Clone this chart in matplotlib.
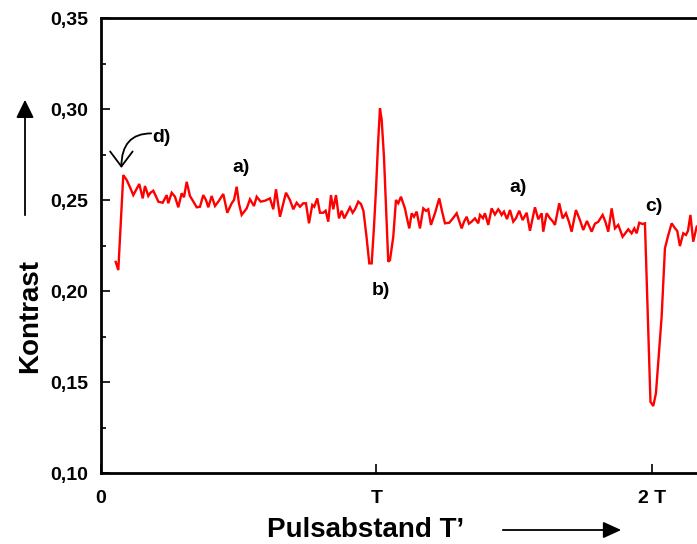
import matplotlib
matplotlib.use("Agg")
import matplotlib.pyplot as plt
from matplotlib.ticker import FixedLocator, MultipleLocator, FuncFormatter

# pulse spacing T' in units of T, contrast value
pulse_spacing = [
    0.0534, 0.0628, 0.0809, 0.0933, 0.1053, 0.1172, 0.1270, 0.1390, 0.1514, 0.1597,
    0.1717, 0.1797, 0.1898, 0.1996, 0.2080, 0.2240, 0.2385, 0.2443, 0.2566, 0.2686,
    0.2806, 0.2929, 0.3013, 0.3111, 0.3230, 0.3339, 0.3474, 0.3593, 0.3713, 0.3811,
    0.3895, 0.4018, 0.4138, 0.4258, 0.4338, 0.4439, 0.4584, 0.4744, 0.4828, 0.4926,
    0.5009, 0.5107, 0.5289, 0.5408, 0.5554, 0.5652, 0.5797, 0.5953, 0.6134, 0.6254,
    0.6352, 0.6497, 0.6606, 0.6715, 0.6860, 0.6980, 0.7103, 0.7223, 0.7343, 0.7441,
    0.7550, 0.7670, 0.7742, 0.7851, 0.7949, 0.8069, 0.8156, 0.8250, 0.8348, 0.8432,
    0.8530, 0.8639, 0.8737, 0.8831, 0.8955, 0.9038, 0.9136, 0.9220, 0.9339, 0.9437,
    0.9528, 0.9637, 0.9739, 0.9826, 0.9909, 0.9982, 1.0054, 1.0127, 1.0189, 1.0272,
    1.0363, 1.0428, 1.0490, 1.0610, 1.0708, 1.0791, 1.0889, 1.1034, 1.1107, 1.1191,
    1.1278, 1.1361, 1.1459, 1.1579, 1.1699, 1.1797, 1.1880, 1.1978, 1.2123, 1.2279,
    1.2377, 1.2486, 1.2642, 1.2777, 1.2911, 1.3093, 1.3176, 1.3274, 1.3358, 1.3455,
    1.3575, 1.3695, 1.3757, 1.3866, 1.3938, 1.4058, 1.4181, 1.4301, 1.4421, 1.4483,
    1.4544, 1.4628, 1.4737, 1.4846, 1.4966, 1.5064, 1.5183, 1.5306, 1.5452, 1.5572,
    1.5753, 1.5873, 1.5997, 1.6054, 1.6178, 1.6297, 1.6407, 1.6479, 1.6635, 1.6759,
    1.6878, 1.6987, 1.7085, 1.7241, 1.7387, 1.7506, 1.7641, 1.7811, 1.7931, 1.8051,
    1.8210, 1.8312, 1.8414, 1.8537, 1.8657, 1.8777, 1.8936, 1.9140, 1.9263, 1.9358,
    1.9445, 1.9539, 1.9662, 1.9746, 1.9946, 2.0047, 2.0145, 2.0352, 2.0472, 2.0581,
    2.0715, 2.0835, 2.0918, 2.1016, 2.1136, 2.1234, 2.1307, 2.1397, 2.1499, 2.1622,
    2.1742,
]
contrast = [
    0.2160, 0.2115, 0.2637, 0.2610, 0.2570, 0.2527, 0.2555, 0.2588, 0.2509, 0.2577,
    0.2522, 0.2540, 0.2551, 0.2520, 0.2491, 0.2485, 0.2527, 0.2482, 0.2540, 0.2518,
    0.2460, 0.2537, 0.2515, 0.2600, 0.2522, 0.2495, 0.2460, 0.2463, 0.2527, 0.2500,
    0.2460, 0.2522, 0.2467, 0.2491, 0.2510, 0.2533, 0.2430, 0.2482, 0.2500, 0.2573,
    0.2480, 0.2418, 0.2454, 0.2504, 0.2467, 0.2518, 0.2491, 0.2496, 0.2509, 0.2449,
    0.2559, 0.2408, 0.2475, 0.2540, 0.2500, 0.2449, 0.2485, 0.2463, 0.2482, 0.2482,
    0.2372, 0.2473, 0.2463, 0.2509, 0.2430, 0.2430, 0.2441, 0.2381, 0.2527, 0.2449,
    0.2527, 0.2399, 0.2441, 0.2399, 0.2436, 0.2460, 0.2430, 0.2449, 0.2491, 0.2478,
    0.2440, 0.2300, 0.2152, 0.2152, 0.2350, 0.2555, 0.2800, 0.3004, 0.2940, 0.2738,
    0.2400, 0.2161, 0.2170, 0.2298, 0.2500, 0.2482, 0.2518, 0.2454, 0.2400, 0.2344,
    0.2427, 0.2408, 0.2436, 0.2344, 0.2454, 0.2440, 0.2449, 0.2363, 0.2427, 0.2509,
    0.2440, 0.2372, 0.2375, 0.2400, 0.2427, 0.2344, 0.2380, 0.2408, 0.2370, 0.2381,
    0.2399, 0.2372, 0.2418, 0.2400, 0.2427, 0.2363, 0.2454, 0.2420, 0.2449, 0.2436,
    0.2418, 0.2436, 0.2395, 0.2445, 0.2381, 0.2400, 0.2441, 0.2390, 0.2430, 0.2331,
    0.2460, 0.2394, 0.2427, 0.2326, 0.2427, 0.2400, 0.2381, 0.2363, 0.2482, 0.2399,
    0.2427, 0.2380, 0.2326, 0.2445, 0.2390, 0.2335, 0.2385, 0.2326, 0.2370, 0.2380,
    0.2418, 0.2380, 0.2326, 0.2454, 0.2344, 0.2363, 0.2298, 0.2339, 0.2317, 0.2344,
    0.2317, 0.2375, 0.2368, 0.2372, 0.1392, 0.1368, 0.1438, 0.1859, 0.2235, 0.2300,
    0.2372, 0.2345, 0.2330, 0.2247, 0.2317, 0.2308, 0.2330, 0.2418, 0.2271, 0.2353,
    0.2370,
]

x_ticks = [0, 1, 2]
x_ticklabels = ["0", "T", "2 T"]
y_ticks = [0.10, 0.15, 0.20, 0.25, 0.30, 0.35]

# marker labels: text, T', contrast
marks = [
    ("a)", 0.508, 0.2676),
    ("b)", 1.016, 0.2005),
    ("a)", 1.514, 0.2566),
    ("c)", 2.007, 0.2467),
    ("d)", 0.218, 0.2846),
]

plt.rcParams["font.family"] = ["Liberation Sans", "DejaVu Sans"]
plt.rcParams["font.weight"] = "bold"

fig = plt.figure(figsize=(6.97, 5.44), dpi=100)
ax = fig.add_axes([0.1449, 0.1305, 0.8695, 0.8364])

ax.plot(pulse_spacing, contrast, color="#ff0000", lw=1.7, solid_joinstyle="miter")

ax.set_xlim(0, 2.2)
ax.set_ylim(0.10, 0.35)

ax.xaxis.set_major_locator(FixedLocator(x_ticks))
ax.set_xticklabels(x_ticklabels)
ax.yaxis.set_major_locator(FixedLocator(y_ticks))
ax.yaxis.set_minor_locator(MultipleLocator(0.025))
ax.yaxis.set_major_formatter(FuncFormatter(lambda v, p: f"{v:.2f}".replace(".", ",")))

ax.tick_params(axis="both", which="major", direction="in", length=6.5, width=1.2,
               labelsize=14, pad=9)
ax.tick_params(axis="y", which="minor", direction="in", length=3.5, width=1.2)
ax.tick_params(axis="x", which="major", pad=12)
for lbl in ax.get_xticklabels() + ax.get_yticklabels():
    lbl.set_fontweight("bold")

for spine in ax.spines.values():
    spine.set_linewidth(2)
    spine.set_color("black")

for txt, xv, yv in marks:
    ax.text(xv, yv, txt, fontsize=14, fontweight="bold", ha="center", va="center")

# curved pointer from d) down to the first maximum
ax.annotate("", xy=(0.074, 0.2676), xytext=(0.182, 0.2866),
            arrowprops=dict(arrowstyle="->,head_length=0.6,head_width=0.45",
                            connectionstyle="angle3,angleA=0,angleB=90", lw=1.3,
                            color="black", mutation_scale=18,
                            shrinkA=0, shrinkB=0))

# axis titles with direction arrows
fig.text(30 / 697, 1 - 316 / 544, "Kontrast", rotation=90, fontsize=20,
         fontweight="bold", ha="center", va="center")
fig.text(366 / 697, 1 - 530 / 544, "Pulsabstand T\u2019", fontsize=20,
         fontweight="bold", ha="center", va="center")

ax.annotate("", xy=(25, 544 - 97), xytext=(25, 544 - 218), xycoords="figure pixels",
            textcoords="figure pixels",
            arrowprops=dict(arrowstyle="-|>,head_length=0.55,head_width=0.27",
                            lw=1.3, color="black", mutation_scale=20))
ax.annotate("", xy=(624, 544 - 530), xytext=(500, 544 - 530), xycoords="figure pixels",
            textcoords="figure pixels",
            arrowprops=dict(arrowstyle="-|>,head_length=0.55,head_width=0.25",
                            lw=1.3, color="black", mutation_scale=20))

fig.savefig("out.png", dpi=100)
